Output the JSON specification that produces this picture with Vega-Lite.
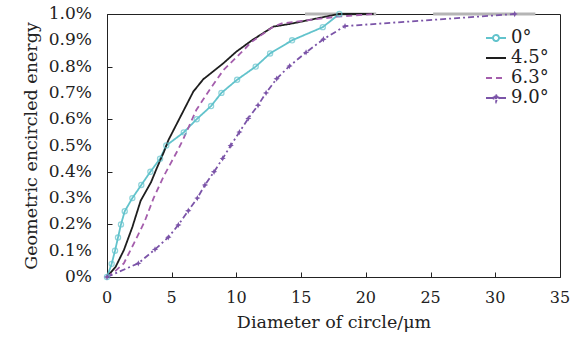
{
  "$schema": "https://vega.github.io/schema/vega-lite/v6.json",
  "width": 453,
  "height": 263,
  "autosize": {"type": "none"},
  "padding": {"left": 107, "top": 14, "right": 22, "bottom": 66},
  "config": {
    "font": "DejaVu Serif",
    "view": {"stroke": "#222", "strokeWidth": 1},
    "axis": {"grid": false, "domainColor": "#222", "tickColor": "#222", "titleColor": "#222",
      "titleFont": "DejaVu Serif", "titleFontWeight": "normal", "titleFontSize": 17.5, "tickSize": -5, "labels": false}
  },
  "datasets": {
    "curves": [
      {"s": "0°", "x": 0, "y": 0}, {"s": "0°", "x": 0.36, "y": 0.05}, {"s": "0°", "x": 0.62, "y": 0.10}, {"s": "0°", "x": 0.85, "y": 0.15}, {"s": "0°", "x": 1.08, "y": 0.20}, {"s": "0°", "x": 1.37, "y": 0.25}, {"s": "0°", "x": 1.96, "y": 0.30}, {"s": "0°", "x": 2.65, "y": 0.35}, {"s": "0°", "x": 3.35, "y": 0.40}, {"s": "0°", "x": 4.1, "y": 0.45}, {"s": "0°", "x": 4.58, "y": 0.50}, {"s": "0°", "x": 5.93, "y": 0.55}, {"s": "0°", "x": 6.93, "y": 0.60}, {"s": "0°", "x": 8.04, "y": 0.65}, {"s": "0°", "x": 8.84, "y": 0.70}, {"s": "0°", "x": 10.05, "y": 0.75}, {"s": "0°", "x": 11.49, "y": 0.80}, {"s": "0°", "x": 12.6, "y": 0.85}, {"s": "0°", "x": 14.3, "y": 0.90}, {"s": "0°", "x": 16.67, "y": 0.95}, {"s": "0°", "x": 17.95, "y": 1.0},
      {"s": "4.5°", "x": 0, "y": 0}, {"s": "4.5°", "x": 0.67, "y": 0.039}, {"s": "4.5°", "x": 1.31, "y": 0.103}, {"s": "4.5°", "x": 1.96, "y": 0.19}, {"s": "4.5°", "x": 2.6, "y": 0.29}, {"s": "4.5°", "x": 3.4, "y": 0.36}, {"s": "4.5°", "x": 3.84, "y": 0.413}, {"s": "4.5°", "x": 4.4, "y": 0.476}, {"s": "4.5°", "x": 4.74, "y": 0.52}, {"s": "4.5°", "x": 6.67, "y": 0.705}, {"s": "4.5°", "x": 7.44, "y": 0.752}, {"s": "4.5°", "x": 9.0, "y": 0.813}, {"s": "4.5°", "x": 10.0, "y": 0.857}, {"s": "4.5°", "x": 11.2, "y": 0.90}, {"s": "4.5°", "x": 12.85, "y": 0.952}, {"s": "4.5°", "x": 14.1, "y": 0.962}, {"s": "4.5°", "x": 17.9, "y": 1.0}, {"s": "4.5°", "x": 20.6, "y": 1.0},
      {"s": "6.3°", "x": 0, "y": 0}, {"s": "6.3°", "x": 0.7, "y": 0.025}, {"s": "6.3°", "x": 1.3, "y": 0.052}, {"s": "6.3°", "x": 2.1, "y": 0.13}, {"s": "6.3°", "x": 2.9, "y": 0.21}, {"s": "6.3°", "x": 3.6, "y": 0.30}, {"s": "6.3°", "x": 4.4, "y": 0.385}, {"s": "6.3°", "x": 5.5, "y": 0.485}, {"s": "6.3°", "x": 5.9, "y": 0.525}, {"s": "6.3°", "x": 6.9, "y": 0.635}, {"s": "6.3°", "x": 8.0, "y": 0.717}, {"s": "6.3°", "x": 9.0, "y": 0.787}, {"s": "6.3°", "x": 10.3, "y": 0.85}, {"s": "6.3°", "x": 11.2, "y": 0.895}, {"s": "6.3°", "x": 12.85, "y": 0.952}, {"s": "6.3°", "x": 13.5, "y": 0.964}, {"s": "6.3°", "x": 17.8, "y": 0.99}, {"s": "6.3°", "x": 20.6, "y": 1.0},
      {"s": "9.0°", "x": 0, "y": 0}, {"s": "9.0°", "x": 2.42, "y": 0.052}, {"s": "9.0°", "x": 3.71, "y": 0.105}, {"s": "9.0°", "x": 4.74, "y": 0.151}, {"s": "9.0°", "x": 5.51, "y": 0.198}, {"s": "9.0°", "x": 6.28, "y": 0.252}, {"s": "9.0°", "x": 6.98, "y": 0.30}, {"s": "9.0°", "x": 7.57, "y": 0.35}, {"s": "9.0°", "x": 8.27, "y": 0.40}, {"s": "9.0°", "x": 8.94, "y": 0.451}, {"s": "9.0°", "x": 9.56, "y": 0.50}, {"s": "9.0°", "x": 10.23, "y": 0.551}, {"s": "9.0°", "x": 10.92, "y": 0.603}, {"s": "9.0°", "x": 11.67, "y": 0.653}, {"s": "9.0°", "x": 12.29, "y": 0.70}, {"s": "9.0°", "x": 13.11, "y": 0.754}, {"s": "9.0°", "x": 14.1, "y": 0.802}, {"s": "9.0°", "x": 15.38, "y": 0.854}, {"s": "9.0°", "x": 16.72, "y": 0.904}, {"s": "9.0°", "x": 18.39, "y": 0.954}, {"s": "9.0°", "x": 31.5, "y": 1.0}
    ],
    "bands": [
      {"x": 15.3, "x2": 20.8, "y": 1.0},
      {"x": 25.2, "x2": 33.1, "y": 1.0}
    ],
    "yticks": [
      {"v": 0, "t": "0%"}, {"v": 0.1, "t": "0.1%"}, {"v": 0.2, "t": "0.2%"}, {"v": 0.3, "t": "0.3%"}, {"v": 0.4, "t": "0.4%"}, {"v": 0.5, "t": "0.5%"},
      {"v": 0.6, "t": "0.6%"}, {"v": 0.7, "t": "0.7%"}, {"v": 0.8, "t": "0.8%"}, {"v": 0.9, "t": "0.9%"}, {"v": 1.0, "t": "1.0%"}
    ],
    "xticks": [
      {"v": 0, "t": "0"}, {"v": 5, "t": "5"}, {"v": 10, "t": "10"}, {"v": 15, "t": "15"}, {"v": 20, "t": "20"}, {"v": 25, "t": "25"}, {"v": 30, "t": "30"}, {"v": 35, "t": "35"}
    ]
  },
  "layer": [
    {
      "data": {"name": "bands"},
      "mark": {"type": "rule", "color": "#b5b5b5", "strokeWidth": 3},
      "encoding": {
        "x": {"field": "x", "type": "quantitative", "scale": {"domain": [0, 35], "nice": false},
          "axis": {"title": "Diameter of circle/μm", "values": [0, 5, 10, 15, 20, 25, 30, 35], "labels": false, "titlePadding": 36}},
        "x2": {"field": "x2"},
        "y": {"field": "y", "type": "quantitative", "scale": {"domain": [0, 1], "nice": false},
          "axis": {"title": "Geometric encircled energy", "values": [0, 0.1, 0.2, 0.3, 0.4, 0.5, 0.6, 0.7, 0.8, 0.9, 1.0], "labels": false, "titlePadding": 66}}
      }
    },
    {
      "data": {"name": "curves"},
      "mark": {"type": "line", "strokeWidth": 1.8},
      "encoding": {
        "x": {"field": "x", "type": "quantitative"},
        "y": {"field": "y", "type": "quantitative"},
        "order": {"field": "x", "type": "quantitative"},
        "color": {"field": "s", "type": "nominal",
          "scale": {"domain": ["0°", "4.5°", "6.3°", "9.0°"], "range": ["#62c3cc", "#1e1e1e", "#a45dac", "#7b54a8"]},
          "legend": {
            "title": null, "orient": "none", "legendX": 378, "legendY": 13,
            "labelFont": "DejaVu Serif", "labelFontSize": 18, "labelColor": "#222",
            "symbolSize": 400, "symbolStrokeWidth": 2, "rowPadding": 0, "labelOffset": 4,
            "symbolType": "stroke",
            "encode": {"symbols": {"update": {
              "shape": {"signal": "datum.value == '0°' ? 'M-1,0L-0.3,0M0.3,0L1,0M0.3,0A0.3,0.3 0 1,1 -0.3,0A0.3,0.3 0 1,1 0.3,0' : datum.value == '9.0°' ? 'M-1,0L1,0M0,-0.35L0.1,-0.1L0.35,0L0.1,0.1L0,0.35L-0.1,0.1L-0.35,0L-0.1,-0.1Z' : 'M-1,0L1,0'"}
            }}}
          }},
        "strokeDash": {"field": "s", "type": "nominal",
          "scale": {"domain": ["0°", "4.5°", "6.3°", "9.0°"], "range": [[1, 0], [1, 0], [6, 4], [6, 3, 2, 3]]},
          "legend": null}
      }
    },
    {
      "data": {"name": "curves"},
      "transform": [{"filter": "datum.s == '0°'"}],
      "mark": {"type": "point", "shape": "circle", "filled": false, "size": 26, "strokeWidth": 1.3, "color": "#62c3cc"},
      "encoding": {
        "x": {"field": "x", "type": "quantitative"},
        "y": {"field": "y", "type": "quantitative"}
      }
    },
    {
      "data": {"name": "curves"},
      "transform": [{"filter": "datum.s == '9.0°'"}],
      "mark": {"type": "point", "shape": "M0,-1L0.3,-0.3L1,0L0.3,0.3L0,1L-0.3,0.3L-1,0L-0.3,-0.3Z", "filled": true, "size": 40, "color": "#7b54a8", "opacity": 1},
      "encoding": {
        "x": {"field": "x", "type": "quantitative"},
        "y": {"field": "y", "type": "quantitative"}
      }
    },
    {
      "data": {"name": "yticks"},
      "mark": {"type": "text", "font": "DejaVu Serif", "fontSize": 17, "color": "#222", "align": "right", "baseline": "middle", "dx": -15},
      "encoding": {
        "x": {"datum": 0, "type": "quantitative"},
        "y": {"field": "v", "type": "quantitative"},
        "text": {"field": "t"}
      }
    },
    {
      "data": {"name": "xticks"},
      "mark": {"type": "text", "font": "DejaVu Serif", "fontSize": 16, "color": "#222", "align": "center", "baseline": "middle", "dy": 21},
      "encoding": {
        "x": {"field": "v", "type": "quantitative"},
        "y": {"datum": 0, "type": "quantitative"},
        "text": {"field": "t"}
      }
    }
  ]
}
